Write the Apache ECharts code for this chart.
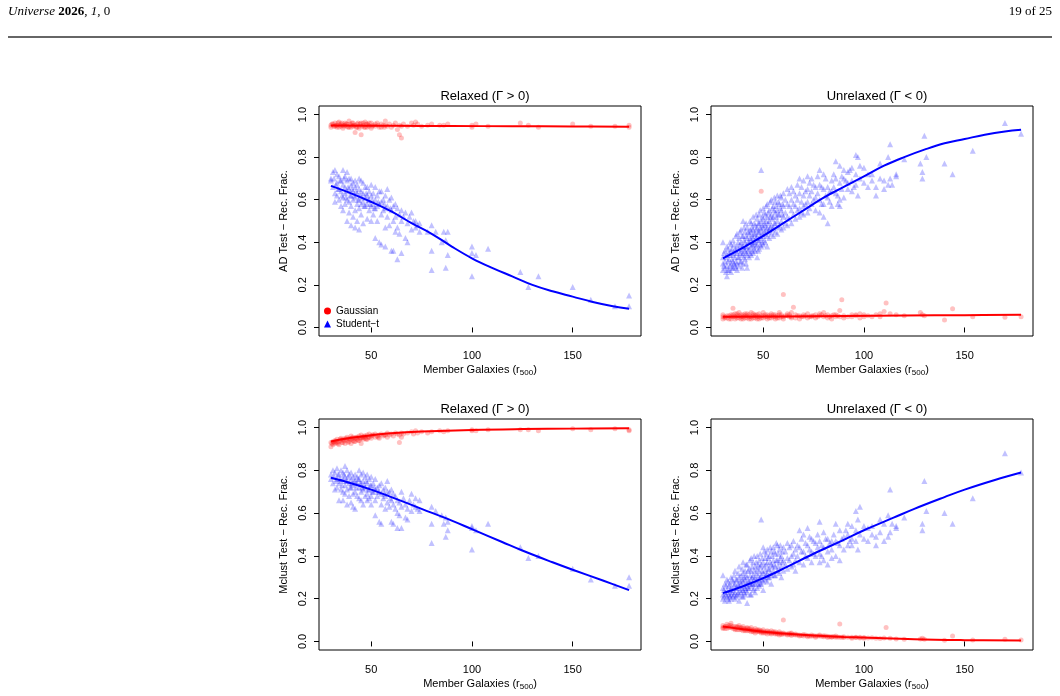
<!DOCTYPE html>
<html><head><meta charset="utf-8">
<script src="https://cdn.jsdelivr.net/npm/echarts@6/dist/echarts.min.js"></script>
<style>html,body{margin:0;padding:0;background:#fff}#c{width:1060px;height:696px}</style>
</head><body><div id="c"></div>
<script>
// ---------- DATA ----------
const xTicks = [50, 100, 150];
const yTicks = [0, 0.2, 0.4, 0.6, 0.8, 1.0];
const panelTitles = ['Relaxed (Γ > 0)', 'Unrelaxed (Γ < 0)', 'Relaxed (Γ > 0)', 'Unrelaxed (Γ < 0)'];
const yNames = ['AD Test − Rec. Frac.', 'AD Test − Rec. Frac.', 'Mclust Test − Rec. Frac.', 'Mclust Test − Rec. Frac.'];

// Panel 1: AD test, relaxed
const adRelGauss = [[30,0.95],[30,0.94],[31,0.955],[32,0.96],[32,0.945],[33,0.95],[33,0.94],[34,0.965],[34,0.94],[35,0.955],[35,0.945],[36,0.95],[36,0.935],[37,0.96],[37,0.95],[38,0.945],[38,0.955],[39,0.97],[39,0.94],[40,0.95],[40,0.94],[41,0.96],[41,0.945],[42,0.95],[42,0.915],[43,0.955],[43,0.94],[44,0.945],[44,0.935],[45,0.96],[45,0.905],[46,0.95],[46,0.96],[47,0.94],[47,0.965],[48,0.955],[48,0.94],[49,0.945],[49,0.96],[50,0.96],[50,0.935],[51,0.95],[52,0.945],[52,0.955],[53,0.96],[54,0.94],[55,0.955],[55,0.94],[56,0.95],[57,0.97],[57,0.95],[58,0.945],[59,0.955],[60,0.94],[61,0.95],[62,0.96],[63,0.93],[64,0.905],[64,0.95],[65,0.89],[65,0.945],[66,0.955],[68,0.945],[70,0.96],[71,0.95],[72,0.965],[73,0.955],[75,0.945],[78,0.95],[80,0.955],[84,0.95],[86,0.95],[88,0.955],[100,0.94],[100,0.95],[102,0.955],[108,0.945],[124,0.96],[128,0.95],[133,0.94],[150,0.955],[159,0.945],[171,0.945],[178,0.95],[178,0.94],
  [30.5,0.955],[31.5,0.945],[32.5,0.95],[33.5,0.96],[34.5,0.95],[35.5,0.96],[36.5,0.945],[37.5,0.955],[38.5,0.94],[39.5,0.955],[40.5,0.96],[41.5,0.95],[42.5,0.94],[43.5,0.96],[44.5,0.955],[45.5,0.945],[46.5,0.94],[47.5,0.955],[48.5,0.95],[50.5,0.945],[53.5,0.95],[56.5,0.94]];
const adRelStud = [[30,0.70],[30,0.69],[31,0.73],[31,0.66],[32,0.74],[32,0.63],[32,0.59],[33,0.72],[33,0.68],[33,0.62],[34,0.71],[34,0.65],[34,0.60],[35,0.69],[35,0.64],[35,0.57],[36,0.74],[36,0.67],[36,0.61],[36,0.55],[37,0.71],[37,0.66],[37,0.63],[37,0.58],[38,0.73],[38,0.69],[38,0.64],[38,0.60],[38,0.50],[39,0.70],[39,0.65],[39,0.59],[39,0.54],[40,0.70],[40,0.67],[40,0.62],[40,0.57],[40,0.48],[41,0.68],[41,0.64],[41,0.60],[41,0.52],[42,0.69],[42,0.66],[42,0.61],[42,0.55],[42,0.47],[43,0.67],[43,0.63],[43,0.58],[43,0.50],[44,0.70],[44,0.65],[44,0.60],[44,0.56],[44,0.46],[45,0.69],[45,0.64],[45,0.58],[45,0.53],[46,0.68],[46,0.63],[46,0.59],[46,0.49],[47,0.66],[47,0.61],[47,0.57],[48,0.66],[48,0.62],[48,0.58],[48,0.51],[49,0.64],[49,0.60],[49,0.55],[50,0.67],[50,0.62],[50,0.57],[50,0.50],[51,0.63],[51,0.58],[51,0.53],[52,0.66],[52,0.60],[52,0.56],[52,0.42],[53,0.62],[53,0.57],[53,0.50],[54,0.64],[54,0.58],[54,0.40],[55,0.64],[55,0.59],[55,0.53],[55,0.39],[56,0.60],[56,0.55],[57,0.62],[57,0.56],[57,0.47],[57,0.38],[58,0.65],[58,0.57],[58,0.52],[59,0.60],[59,0.48],[60,0.61],[60,0.55],[60,0.36],[61,0.57],[61,0.50],[61,0.36],[62,0.58],[62,0.52],[62,0.45],[63,0.56],[63,0.47],[63,0.32],[64,0.53],[64,0.44],[65,0.55],[65,0.50],[65,0.35],[66,0.52],[67,0.54],[67,0.42],[68,0.49],[68,0.40],[69,0.52],[70,0.54],[70,0.46],[71,0.50],[72,0.50],[72,0.47],[73,0.48],[74,0.49],[74,0.45],[78,0.45],[80,0.48],[80,0.36],[80,0.27],[82,0.45],[85,0.40],[86,0.45],[87,0.41],[87,0.28],[88,0.34],[88,0.45],[100,0.38],[100,0.35],[100,0.24],[102,0.34],[108,0.37],[124,0.26],[128,0.19],[133,0.24],[150,0.19],[159,0.13],[171,0.10],[178,0.15],[178,0.10],
  [31.5,0.70],[32.5,0.67],[33.5,0.65],[34.5,0.69],[35.5,0.62],[36.5,0.70],[37.5,0.61],[38.5,0.66],[39.5,0.62],[40.5,0.65],[41.5,0.62],[42.5,0.64],[43.5,0.60],[44.5,0.62],[45.5,0.61],[46.5,0.57],[47.5,0.63],[48.5,0.60],[49.5,0.58],[50.5,0.60],[51.5,0.56],[53.5,0.59],[56.5,0.58],[59.5,0.56]];
const adRelGaussFit = [[30,0.948],[60,0.947],[90,0.946],[120,0.945],[150,0.944],[178,0.943]];
const adRelStudFit = [[30,0.665],[40,0.63],[50,0.59],[60,0.545],[70,0.49],[80,0.44],[90,0.38],[100,0.325],[110,0.28],[120,0.24],[130,0.20],[140,0.17],[150,0.145],[160,0.12],[170,0.10],[178,0.088]];

// Panel 2: AD test, unrelaxed
const adUnrGauss = [[30,0.05],[30,0.04],[30,0.06],[32,0.055],[32,0.045],[34,0.06],[34,0.04],[34,0.05],[35,0.09],[36,0.05],[36,0.065],[36,0.04],[38,0.055],[38,0.045],[38,0.07],[40,0.06],[40,0.04],[40,0.05],[42,0.065],[42,0.045],[42,0.055],[44,0.05],[44,0.04],[44,0.07],[46,0.06],[46,0.045],[46,0.055],[48,0.065],[48,0.04],[48,0.05],[49,0.64],[50,0.055],[50,0.045],[50,0.07],[52,0.06],[52,0.04],[52,0.05],[54,0.065],[54,0.045],[54,0.055],[56,0.05],[56,0.04],[56,0.06],[58,0.06],[58,0.045],[58,0.07],[60,0.155],[60,0.05],[60,0.04],[62,0.055],[62,0.065],[64,0.05],[64,0.045],[64,0.07],[65,0.095],[66,0.06],[66,0.045],[68,0.055],[68,0.04],[70,0.06],[70,0.05],[72,0.065],[72,0.045],[74,0.05],[74,0.055],[76,0.06],[76,0.045],[78,0.055],[78,0.065],[80,0.05],[80,0.07],[82,0.06],[82,0.045],[84,0.055],[84,0.04],[86,0.05],[86,0.06],[88,0.08],[88,0.05],[89,0.13],[90,0.055],[90,0.045],[94,0.06],[94,0.05],[96,0.055],[98,0.065],[98,0.045],[100,0.06],[100,0.05],[102,0.055],[106,0.06],[108,0.065],[108,0.05],[110,0.075],[111,0.115],[113,0.065],[116,0.06],[120,0.055],[128,0.07],[129,0.06],[130,0.055],[140,0.035],[144,0.088],[154,0.05],[170,0.048],[178,0.05],
  [31,0.05],[31,0.045],[33,0.055],[33,0.04],[35,0.05],[35,0.06],[37,0.045],[37,0.055],[37,0.065],[39,0.05],[39,0.04],[39,0.06],[41,0.055],[41,0.045],[41,0.065],[43,0.05],[43,0.06],[43,0.04],[45,0.055],[45,0.045],[45,0.065],[47,0.05],[47,0.06],[47,0.04],[49,0.055],[49,0.045],[51,0.06],[51,0.05],[53,0.055],[53,0.045],[55,0.06],[55,0.05],[57,0.055],[57,0.045],[59,0.05],[59,0.06],[61,0.055],[63,0.05],[63,0.06],[67,0.055],[69,0.05],[71,0.055],[73,0.05],[75,0.055],[77,0.05],[79,0.06],[81,0.055],[83,0.05],[85,0.06],[87,0.055],[92,0.05],[96,0.06],[104,0.05]];
const adUnrStud = [[30,0.40],[30,0.33],[30,0.30],[30,0.27],[31,0.36],[31,0.31],[31,0.28],[32,0.38],[32,0.34],[32,0.29],[32,0.24],[33,0.35],[33,0.32],[33,0.27],[34,0.39],[34,0.36],[34,0.30],[34,0.26],[35,0.41],[35,0.34],[35,0.31],[35,0.28],[36,0.37],[36,0.33],[36,0.29],[37,0.44],[37,0.38],[37,0.35],[37,0.30],[37,0.27],[38,0.42],[38,0.37],[38,0.33],[38,0.29],[39,0.46],[39,0.40],[39,0.36],[39,0.31],[40,0.50],[40,0.43],[40,0.38],[40,0.35],[40,0.30],[41,0.45],[41,0.40],[41,0.36],[41,0.32],[42,0.47],[42,0.42],[42,0.38],[42,0.34],[42,0.28],[43,0.44],[43,0.40],[43,0.37],[43,0.33],[44,0.49],[44,0.45],[44,0.41],[44,0.38],[44,0.34],[45,0.52],[45,0.46],[45,0.42],[45,0.39],[45,0.35],[46,0.48],[46,0.44],[46,0.40],[46,0.36],[47,0.51],[47,0.47],[47,0.43],[47,0.39],[47,0.33],[48,0.53],[48,0.49],[48,0.45],[48,0.41],[48,0.37],[49,0.74],[49,0.50],[49,0.46],[49,0.42],[49,0.38],[50,0.56],[50,0.51],[50,0.47],[50,0.43],[50,0.39],[51,0.53],[51,0.48],[51,0.44],[51,0.40],[52,0.58],[52,0.52],[52,0.47],[52,0.43],[52,0.38],[53,0.55],[53,0.50],[53,0.46],[53,0.42],[54,0.60],[54,0.53],[54,0.48],[54,0.44],[55,0.57],[55,0.52],[55,0.47],[55,0.43],[56,0.59],[56,0.54],[56,0.49],[56,0.45],[57,0.62],[57,0.55],[57,0.50],[57,0.44],[58,0.58],[58,0.53],[58,0.48],[59,0.61],[59,0.55],[59,0.50],[59,0.46],[60,0.63],[60,0.57],[60,0.52],[60,0.47],[62,0.65],[62,0.58],[62,0.52],[62,0.48],[64,0.66],[64,0.60],[64,0.55],[64,0.49],[66,0.62],[66,0.57],[66,0.51],[68,0.70],[68,0.63],[68,0.56],[68,0.52],[70,0.69],[70,0.62],[70,0.57],[70,0.53],[72,0.71],[72,0.65],[72,0.59],[72,0.54],[74,0.70],[74,0.64],[74,0.58],[76,0.66],[76,0.61],[76,0.55],[78,0.74],[78,0.67],[78,0.60],[78,0.54],[80,0.72],[80,0.65],[80,0.58],[80,0.52],[82,0.66],[82,0.61],[82,0.49],[84,0.69],[84,0.64],[84,0.57],[86,0.78],[86,0.70],[86,0.63],[88,0.76],[88,0.68],[88,0.60],[88,0.57],[90,0.74],[90,0.70],[90,0.61],[92,0.73],[92,0.68],[92,0.65],[94,0.75],[94,0.69],[94,0.64],[96,0.81],[96,0.72],[96,0.67],[97,0.80],[97,0.62],[98,0.76],[98,0.70],[100,0.75],[100,0.68],[102,0.72],[102,0.66],[104,0.72],[104,0.69],[106,0.66],[106,0.62],[108,0.77],[108,0.70],[110,0.69],[110,0.65],[112,0.80],[112,0.67],[113,0.86],[113,0.70],[114,0.67],[116,0.72],[116,0.71],[120,0.79],[128,0.77],[129,0.73],[129,0.70],[130,0.90],[131,0.80],[140,0.77],[144,0.72],[154,0.83],[170,0.96],[178,0.91],
  [30.5,0.35],[30.5,0.29],[31.5,0.33],[31.5,0.26],[32.5,0.37],[32.5,0.31],[32.5,0.27],[33.5,0.40],[33.5,0.34],[33.5,0.29],[34.5,0.37],[34.5,0.32],[34.5,0.28],[35.5,0.39],[35.5,0.35],[35.5,0.30],[36.5,0.43],[36.5,0.36],[36.5,0.31],[36.5,0.28],[37.5,0.40],[37.5,0.33],[38.5,0.45],[38.5,0.39],[38.5,0.35],[38.5,0.31],[39.5,0.43],[39.5,0.38],[39.5,0.34],[39.5,0.28],[40.5,0.47],[40.5,0.41],[40.5,0.37],[40.5,0.33],[41.5,0.49],[41.5,0.43],[41.5,0.38],[41.5,0.35],[41.5,0.30],[42.5,0.45],[42.5,0.40],[42.5,0.36],[43.5,0.50],[43.5,0.46],[43.5,0.42],[43.5,0.35],[44.5,0.47],[44.5,0.43],[44.5,0.39],[44.5,0.36],[45.5,0.49],[45.5,0.44],[45.5,0.40],[45.5,0.37],[46.5,0.53],[46.5,0.46],[46.5,0.42],[46.5,0.38],[47.5,0.49],[47.5,0.45],[47.5,0.41],[47.5,0.36],[48.5,0.55],[48.5,0.47],[48.5,0.43],[48.5,0.39],[49.5,0.52],[49.5,0.48],[49.5,0.44],[49.5,0.40],[50.5,0.54],[50.5,0.49],[50.5,0.45],[50.5,0.41],[51.5,0.57],[51.5,0.50],[51.5,0.46],[52.5,0.54],[52.5,0.49],[52.5,0.45],[53.5,0.59],[53.5,0.52],[53.5,0.47],[54.5,0.56],[54.5,0.51],[54.5,0.46],[55.5,0.61],[55.5,0.55],[55.5,0.49],[56.5,0.57],[56.5,0.52],[57.5,0.59],[57.5,0.53],[57.5,0.47],[58.5,0.62],[58.5,0.56],[59.5,0.58],[59.5,0.53],[61,0.60],[61,0.54],[61,0.49],[63,0.63],[63,0.57],[63,0.51],[65,0.64],[65,0.58],[65,0.53],[67,0.67],[67,0.60],[67,0.55],[69,0.66],[69,0.59],[69,0.54],[71,0.64],[71,0.58],[73,0.68],[73,0.62],[73,0.56],[75,0.67],[75,0.60],[77,0.71],[77,0.63],[79,0.66],[79,0.58],[81,0.70],[81,0.62],[83,0.64],[83,0.59],[85,0.72],[85,0.66],[87,0.62],[87,0.58],[89,0.71],[89,0.65],[91,0.69],[93,0.74],[95,0.66]];
const adUnrGaussFit = [[30,0.050],[60,0.052],[90,0.054],[120,0.056],[150,0.058],[178,0.060]];
const adUnrStudFit = [[30,0.325],[40,0.375],[50,0.43],[60,0.49],[70,0.55],[80,0.61],[90,0.66],[100,0.71],[110,0.76],[120,0.80],[130,0.835],[140,0.865],[150,0.885],[160,0.905],[170,0.92],[178,0.928]];

// Panel 3: Mclust test, relaxed
const mcRelGauss = [[30,0.93],[30,0.91],[31,0.935],[31,0.92],[32,0.94],[32,0.925],[33,0.93],[33,0.945],[34,0.935],[34,0.92],[35,0.94],[35,0.95],[36,0.93],[36,0.945],[37,0.925],[37,0.95],[38,0.94],[38,0.955],[39,0.935],[39,0.95],[40,0.945],[40,0.96],[40,0.925],[41,0.94],[41,0.955],[42,0.95],[42,0.935],[43,0.955],[43,0.945],[44,0.96],[44,0.94],[45,0.95],[45,0.965],[45,0.925],[46,0.955],[46,0.945],[47,0.96],[47,0.95],[48,0.965],[48,0.945],[49,0.955],[49,0.97],[50,0.96],[50,0.95],[51,0.965],[52,0.955],[52,0.97],[53,0.96],[54,0.965],[54,0.95],[55,0.97],[56,0.96],[57,0.965],[58,0.975],[58,0.955],[59,0.965],[60,0.97],[61,0.96],[62,0.975],[63,0.97],[64,0.965],[64,0.93],[65,0.975],[65,0.955],[66,0.97],[68,0.975],[70,0.98],[71,0.97],[72,0.985],[73,0.975],[75,0.98],[78,0.975],[80,0.98],[84,0.985],[86,0.98],[88,0.985],[100,0.985],[100,0.99],[102,0.985],[108,0.99],[124,0.99],[128,0.99],[133,0.985],[150,0.995],[159,0.99],[171,0.995],[178,0.99],[178,0.985],
  [30.5,0.925],[31.5,0.93],[32.5,0.935],[33.5,0.925],[34.5,0.945],[35.5,0.93],[36.5,0.94],[37.5,0.945],[38.5,0.93],[39.5,0.945],[40.5,0.95],[41.5,0.935],[42.5,0.955],[43.5,0.94],[44.5,0.95],[45.5,0.955],[46.5,0.96],[47.5,0.945],[48.5,0.955],[50.5,0.965],[53.5,0.955],[56.5,0.965]];
const mcRelStud = [[30,0.78],[30,0.76],[31,0.80],[31,0.74],[32,0.79],[32,0.71],[33,0.81],[33,0.76],[33,0.72],[34,0.78],[34,0.74],[34,0.66],[35,0.80],[35,0.75],[35,0.71],[36,0.79],[36,0.76],[36,0.70],[36,0.66],[37,0.82],[37,0.77],[37,0.73],[37,0.69],[38,0.80],[38,0.75],[38,0.71],[38,0.64],[39,0.78],[39,0.74],[39,0.68],[40,0.79],[40,0.76],[40,0.72],[40,0.65],[41,0.77],[41,0.73],[41,0.69],[41,0.63],[42,0.78],[42,0.75],[42,0.70],[42,0.62],[43,0.77],[43,0.74],[43,0.68],[44,0.80],[44,0.76],[44,0.72],[44,0.67],[45,0.78],[45,0.74],[45,0.70],[45,0.66],[46,0.79],[46,0.75],[46,0.71],[46,0.64],[47,0.77],[47,0.72],[47,0.68],[48,0.78],[48,0.74],[48,0.69],[48,0.66],[49,0.76],[49,0.71],[49,0.67],[50,0.77],[50,0.73],[50,0.68],[50,0.64],[51,0.74],[51,0.70],[52,0.76],[52,0.71],[52,0.66],[52,0.59],[53,0.72],[53,0.68],[54,0.73],[54,0.70],[54,0.56],[55,0.74],[55,0.69],[55,0.64],[55,0.55],[56,0.71],[56,0.67],[57,0.72],[57,0.68],[57,0.62],[58,0.75],[58,0.70],[58,0.65],[59,0.70],[59,0.63],[60,0.71],[60,0.66],[60,0.56],[61,0.69],[61,0.64],[61,0.55],[62,0.68],[62,0.62],[63,0.66],[63,0.60],[63,0.53],[64,0.65],[64,0.59],[65,0.70],[65,0.63],[65,0.53],[66,0.67],[67,0.64],[67,0.58],[68,0.62],[68,0.57],[69,0.66],[70,0.69],[70,0.61],[71,0.64],[72,0.67],[72,0.63],[73,0.62],[74,0.66],[74,0.61],[80,0.63],[80,0.55],[80,0.46],[82,0.61],[85,0.59],[86,0.55],[87,0.58],[87,0.49],[88,0.56],[88,0.52],[100,0.54],[100,0.53],[100,0.43],[102,0.52],[108,0.55],[124,0.44],[128,0.39],[133,0.40],[150,0.34],[159,0.29],[171,0.26],[178,0.30],[178,0.26],
  [31.5,0.77],[32.5,0.75],[33.5,0.78],[34.5,0.76],[35.5,0.73],[36.5,0.78],[37.5,0.75],[38.5,0.77],[39.5,0.72],[40.5,0.74],[41.5,0.75],[42.5,0.72],[43.5,0.76],[44.5,0.74],[45.5,0.72],[46.5,0.73],[47.5,0.75],[48.5,0.71],[49.5,0.73],[50.5,0.70],[51.5,0.72],[53.5,0.70],[56.5,0.69],[59.5,0.67]];
const mcRelGaussFit = [[30,0.935],[40,0.952],[50,0.964],[60,0.973],[75,0.981],[100,0.989],[125,0.993],[150,0.995],[178,0.997]];
const mcRelStudFit = [[30,0.765],[40,0.74],[50,0.71],[60,0.675],[75,0.62],[90,0.565],[100,0.525],[115,0.465],[125,0.425],[140,0.37],[150,0.335],[165,0.285],[178,0.24]];

// Panel 4: Mclust test, unrelaxed
const mcUnrGauss = [[30,0.075],[30,0.065],[30,0.06],[32,0.07],[32,0.08],[32,0.06],[34,0.075],[34,0.065],[34,0.085],[36,0.07],[36,0.06],[36,0.055],[38,0.065],[38,0.075],[38,0.055],[40,0.06],[40,0.07],[40,0.05],[42,0.06],[42,0.05],[42,0.065],[44,0.055],[44,0.045],[44,0.065],[46,0.05],[46,0.06],[46,0.04],[48,0.05],[48,0.045],[48,0.055],[50,0.045],[50,0.04],[50,0.055],[52,0.045],[52,0.035],[52,0.05],[54,0.04],[54,0.05],[54,0.035],[56,0.04],[56,0.035],[56,0.045],[58,0.038],[58,0.03],[58,0.045],[60,0.10],[60,0.035],[60,0.04],[62,0.035],[62,0.03],[64,0.035],[64,0.028],[64,0.04],[66,0.03],[66,0.035],[68,0.03],[68,0.025],[70,0.032],[70,0.026],[72,0.028],[72,0.022],[74,0.03],[74,0.024],[76,0.026],[76,0.02],[78,0.025],[78,0.03],[80,0.022],[80,0.027],[82,0.024],[82,0.018],[84,0.022],[84,0.02],[86,0.02],[86,0.025],[88,0.082],[88,0.02],[90,0.018],[90,0.022],[94,0.02],[94,0.015],[96,0.018],[98,0.016],[98,0.02],[100,0.015],[100,0.018],[104,0.017],[108,0.014],[110,0.016],[111,0.065],[113,0.015],[116,0.012],[120,0.01],[128,0.012],[129,0.015],[130,0.01],[140,0.006],[144,0.025],[154,0.007],[170,0.01],[178,0.007],
  [31,0.07],[31,0.06],[33,0.075],[33,0.065],[35,0.07],[35,0.06],[37,0.065],[37,0.055],[37,0.07],[39,0.06],[39,0.065],[39,0.055],[41,0.06],[41,0.055],[41,0.05],[43,0.055],[43,0.06],[43,0.05],[45,0.055],[45,0.05],[45,0.045],[47,0.05],[47,0.045],[47,0.055],[49,0.05],[49,0.045],[49,0.04],[51,0.045],[51,0.04],[53,0.045],[53,0.04],[55,0.04],[55,0.045],[57,0.04],[57,0.035],[59,0.038],[59,0.032],[61,0.035],[63,0.033],[63,0.038],[65,0.032],[67,0.03],[69,0.028],[71,0.03],[73,0.026],[75,0.027],[77,0.025],[79,0.024],[81,0.025],[83,0.022],[85,0.023],[87,0.021],[89,0.02],[92,0.02],[96,0.02],[102,0.016],[106,0.015]];
const mcUnrStud = [[30,0.31],[30,0.25],[30,0.22],[30,0.20],[31,0.27],[31,0.23],[31,0.19],[32,0.29],[32,0.24],[32,0.21],[33,0.26],[33,0.22],[33,0.19],[34,0.30],[34,0.25],[34,0.22],[34,0.20],[35,0.28],[35,0.24],[35,0.21],[36,0.33],[36,0.27],[36,0.23],[36,0.20],[37,0.29],[37,0.25],[37,0.22],[38,0.35],[38,0.30],[38,0.26],[38,0.22],[38,0.19],[39,0.31],[39,0.27],[39,0.23],[40,0.37],[40,0.32],[40,0.28],[40,0.24],[40,0.21],[41,0.33],[41,0.29],[41,0.25],[41,0.22],[42,0.36],[42,0.30],[42,0.26],[42,0.23],[42,0.18],[43,0.34],[43,0.28],[43,0.25],[44,0.39],[44,0.33],[44,0.29],[44,0.26],[44,0.22],[45,0.37],[45,0.31],[45,0.27],[45,0.24],[46,0.35],[46,0.30],[46,0.27],[46,0.23],[47,0.40],[47,0.34],[47,0.29],[47,0.25],[48,0.38],[48,0.33],[48,0.29],[48,0.26],[49,0.57],[49,0.36],[49,0.31],[49,0.27],[50,0.44],[50,0.37],[50,0.32],[50,0.28],[50,0.24],[51,0.39],[51,0.33],[51,0.29],[52,0.43],[52,0.37],[52,0.32],[52,0.28],[53,0.40],[53,0.34],[53,0.30],[54,0.42],[54,0.36],[54,0.31],[54,0.27],[55,0.44],[55,0.38],[55,0.33],[56,0.41],[56,0.35],[56,0.31],[57,0.45],[57,0.38],[57,0.33],[58,0.43],[58,0.37],[58,0.32],[59,0.40],[59,0.35],[59,0.30],[60,0.44],[60,0.38],[60,0.33],[62,0.46],[62,0.39],[62,0.34],[64,0.45],[64,0.40],[64,0.35],[66,0.43],[66,0.38],[66,0.33],[68,0.52],[68,0.44],[68,0.37],[70,0.50],[70,0.42],[70,0.36],[72,0.53],[72,0.45],[72,0.39],[74,0.48],[74,0.42],[74,0.37],[76,0.46],[76,0.40],[78,0.56],[78,0.47],[78,0.41],[78,0.37],[80,0.51],[80,0.44],[80,0.38],[82,0.48],[82,0.42],[82,0.36],[84,0.47],[84,0.43],[84,0.39],[86,0.55],[86,0.47],[86,0.40],[88,0.52],[88,0.45],[88,0.38],[90,0.49],[90,0.43],[92,0.55],[92,0.50],[92,0.45],[94,0.54],[94,0.48],[94,0.45],[96,0.61],[96,0.52],[96,0.47],[97,0.57],[97,0.43],[98,0.63],[98,0.50],[100,0.54],[100,0.48],[102,0.53],[102,0.47],[104,0.54],[104,0.50],[106,0.49],[106,0.45],[108,0.57],[108,0.51],[110,0.55],[110,0.47],[112,0.59],[112,0.49],[113,0.71],[113,0.51],[114,0.55],[116,0.54],[116,0.53],[120,0.58],[129,0.55],[129,0.52],[130,0.75],[131,0.61],[140,0.60],[144,0.55],[154,0.67],[170,0.88],[178,0.79],
  [30.5,0.24],[30.5,0.21],[31.5,0.26],[31.5,0.22],[32.5,0.28],[32.5,0.23],[32.5,0.20],[33.5,0.27],[33.5,0.24],[33.5,0.21],[34.5,0.29],[34.5,0.23],[35.5,0.31],[35.5,0.26],[35.5,0.22],[36.5,0.29],[36.5,0.25],[36.5,0.21],[37.5,0.32],[37.5,0.27],[37.5,0.23],[38.5,0.28],[38.5,0.24],[39.5,0.34],[39.5,0.29],[39.5,0.25],[39.5,0.21],[40.5,0.30],[40.5,0.26],[40.5,0.23],[41.5,0.36],[41.5,0.31],[41.5,0.27],[41.5,0.24],[42.5,0.33],[42.5,0.28],[42.5,0.25],[43.5,0.38],[43.5,0.31],[43.5,0.27],[43.5,0.22],[44.5,0.35],[44.5,0.30],[44.5,0.27],[45.5,0.40],[45.5,0.33],[45.5,0.29],[45.5,0.25],[46.5,0.37],[46.5,0.32],[46.5,0.28],[47.5,0.36],[47.5,0.31],[47.5,0.27],[48.5,0.41],[48.5,0.35],[48.5,0.30],[48.5,0.27],[49.5,0.39],[49.5,0.33],[49.5,0.29],[50.5,0.42],[50.5,0.35],[50.5,0.30],[51.5,0.41],[51.5,0.36],[51.5,0.31],[52.5,0.39],[52.5,0.34],[52.5,0.30],[53.5,0.44],[53.5,0.37],[53.5,0.32],[54.5,0.40],[54.5,0.35],[55.5,0.42],[55.5,0.36],[55.5,0.31],[56.5,0.46],[56.5,0.38],[57.5,0.41],[57.5,0.35],[58.5,0.45],[58.5,0.39],[59.5,0.42],[59.5,0.37],[61,0.42],[61,0.36],[63,0.44],[63,0.38],[65,0.47],[65,0.41],[65,0.36],[67,0.45],[67,0.40],[69,0.48],[69,0.42],[71,0.46],[71,0.40],[73,0.49],[73,0.43],[75,0.47],[75,0.41],[77,0.50],[77,0.44],[79,0.45],[79,0.40],[81,0.48],[83,0.46],[85,0.50],[87,0.46],[89,0.48],[91,0.52],[93,0.47]];
const mcUnrGaussFit = [[30,0.07],[40,0.057],[50,0.045],[60,0.037],[75,0.028],[90,0.021],[100,0.018],[125,0.01],[150,0.006],[178,0.004]];
const mcUnrStudFit = [[30,0.226],[40,0.258],[50,0.296],[60,0.34],[75,0.41],[90,0.475],[100,0.52],[115,0.58],[125,0.62],[140,0.675],[150,0.71],[165,0.755],[178,0.79]];

// ---------- CHART ----------
const panels = [
  {gauss: adRelGauss, stud: adRelStud, gFit: adRelGaussFit, sFit: adRelStudFit},
  {gauss: adUnrGauss, stud: adUnrStud, gFit: adUnrGaussFit, sFit: adUnrStudFit},
  {gauss: mcRelGauss, stud: mcRelStud, gFit: mcRelGaussFit, sFit: mcRelStudFit},
  {gauss: mcUnrGauss, stud: mcUnrStud, gFit: mcUnrGaussFit, sFit: mcUnrStudFit}
];
const boxes = [
  {left: 319, top: 106, width: 322, height: 230},
  {left: 711, top: 106, width: 322, height: 230},
  {left: 319, top: 419, width: 322, height: 231},
  {left: 711, top: 419, width: 322, height: 231}
];
const FONT = 'Liberation Sans';
const grid = [], xAxis = [], yAxis = [], series = [], title = [];
boxes.forEach((b, i) => {
  grid.push(Object.assign({show: true, borderColor: '#000', borderWidth: 1, backgroundColor: 'transparent', containLabel: false}, b));
  title.push({text: panelTitles[i], left: b.left + b.width / 2, top: b.top - 21, textAlign: 'center',
    textStyle: {fontFamily: FONT, fontSize: 13, fontWeight: 'normal', color: '#000'}});
  xAxis.push({type: 'value', gridIndex: i, min: 24.08, max: 183.92,
    splitLine: {show: false}, axisLine: {show: false},
    axisTick: {show: true, inside: false, length: 5, customValues: xTicks, lineStyle: {color: '#000'}},
    axisLabel: {customValues: xTicks, margin: 14, fontFamily: FONT, fontSize: 11, color: '#000'},
    name: 'Member Galaxies (r{sub|500})', nameLocation: 'middle', nameGap: 27,
    nameTextStyle: {fontFamily: FONT, fontSize: 11, color: '#000', rich: {sub: {fontFamily: FONT, fontSize: 8, color: '#000', verticalAlign: 'bottom', padding: [6, 0, 0, 0]}}}});
  yAxis.push({type: 'value', gridIndex: i, min: -0.04, max: 1.04,
    splitLine: {show: false}, axisLine: {show: false},
    axisTick: {show: true, inside: false, length: 5, customValues: yTicks, lineStyle: {color: '#000'}},
    axisLabel: {customValues: yTicks, rotate: 90, margin: 11, fontFamily: FONT, fontSize: 11, color: '#000',
      formatter: v => v.toFixed(1)},
    name: yNames[i], nameLocation: 'middle', nameGap: 30,
    nameTextStyle: {fontFamily: FONT, fontSize: 11, color: '#000'}});
  const p = panels[i];
  series.push({type: 'scatter', name: 'Gaussian', xAxisIndex: i, yAxisIndex: i, data: p.gauss,
    symbol: 'circle', symbolSize: 5, itemStyle: {color: 'rgba(255,0,0,0.3)'}, silent: true, z: 2, large: false});
  series.push({type: 'scatter', name: 'Student−t', xAxisIndex: i, yAxisIndex: i, data: p.stud,
    symbol: 'triangle', symbolSize: 6, itemStyle: {color: 'rgba(0,0,255,0.3)'}, silent: true, z: 2, large: false});
  series.push({type: 'line', name: 'gfit' + i, xAxisIndex: i, yAxisIndex: i, data: p.gFit, smooth: 0.4,
    showSymbol: false, lineStyle: {color: '#ff0000', width: 2}, silent: true, z: 3});
  series.push({type: 'line', name: 'sfit' + i, xAxisIndex: i, yAxisIndex: i, data: p.sFit, smooth: 0.4,
    showSymbol: false, lineStyle: {color: '#0000ff', width: 2}, silent: true, z: 3});
});

const chart = echarts.init(document.getElementById('c'), null, {renderer: 'canvas'});
chart.setOption({
  animation: false,
  backgroundColor: '#fff',
  title, grid, xAxis, yAxis, series,
  legend: {
    left: 322, top: 304, orient: 'vertical', itemGap: 3, itemWidth: 7, itemHeight: 7, selectedMode: false, padding: 2,
    textStyle: {fontFamily: FONT, fontSize: 10, color: '#000', padding: [0, 0, 0, 0]},
    data: [
      {name: 'Gaussian', icon: 'circle', itemStyle: {color: '#ff0000', opacity: 1}},
      {name: 'Student−t', icon: 'triangle', itemStyle: {color: '#0000ff', opacity: 1}}
    ]
  },
  graphic: [
    {type: 'text', left: 8, top: 5, style: {text: '{i|Universe} {b|2026}, {i|1}, 0', fontFamily: 'Liberation Serif', fontSize: 13, fill: '#000',
      rich: {i: {fontStyle: 'italic', fontFamily: 'Liberation Serif', fontSize: 13}, b: {fontWeight: 'bold', fontFamily: 'Liberation Serif', fontSize: 13}}}},
    {type: 'text', right: 8, top: 5, style: {text: '19 of 25', fontFamily: 'Liberation Serif', fontSize: 13, fill: '#000'}},
    {type: 'line', shape: {x1: 8, y1: 37, x2: 1052, y2: 37}, style: {stroke: '#333', lineWidth: 1.5}}
  ]
});
</script></body></html>
